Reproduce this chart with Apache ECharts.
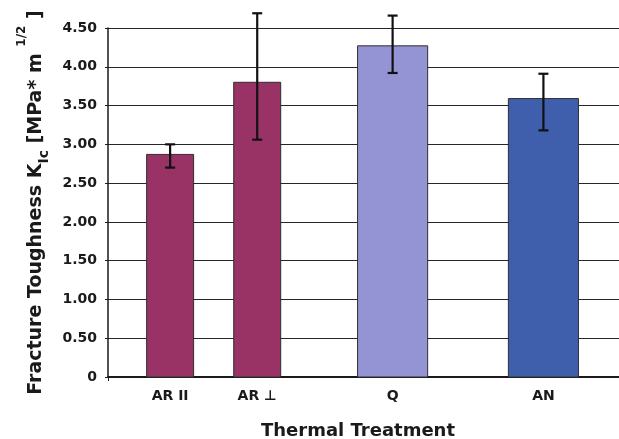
<!DOCTYPE html>
<html>
<head>
<meta charset="utf-8">
<script src="https://cdn.jsdelivr.net/npm/echarts@6/dist/echarts.min.js"></script>
<style>
  html, body { margin: 0; padding: 0; background: #fff; }
  #chart { width: 619px; height: 439px; }
</style>
</head>
<body>
<div id="chart"></div>
<script>
// Fracture toughness by thermal treatment, with scatter bars
const categories = ['AR II', 'AR \u22A5', 'Q', 'AN'];
const toughness = [2.87, 3.80, 4.27, 3.59];
const errorLow = [2.70, 3.06, 3.92, 3.18];
const errorHigh = [3.00, 4.69, 4.66, 3.91];
const yTicks = [0, 0.5, 1, 1.5, 2, 2.5, 3, 3.5, 4, 4.5];

// layout of the bars along the (hidden) horizontal scale
const slotCenter = [1.17, 2.81, 5.36, 8.2];
const slotWidth = [0.885, 0.885, 1.32, 1.32];
const barColors = ['#993366', '#993366', '#9494d4', '#3f5fad'];

const FONT = 'DejaVu Sans';
const INK = '#1a1a1a';

const chart = echarts.init(document.getElementById('chart'), null, { renderer: 'canvas' });

const seriesData = toughness.map((v, i) => [slotCenter[i], v, errorLow[i], errorHigh[i]]);

chart.setOption({
  animation: false,
  backgroundColor: '#ffffff',
  grid: { left: 108, top: 28, bottom: 62, right: -20, outerBoundsMode: 'none' },
  xAxis: {
    type: 'value',
    min: 0,
    max: 10,
    interval: 10,
    name: 'Thermal Treatment',
    nameLocation: 'middle',
    nameGap: 45,
    nameTextStyle: {
      fontFamily: FONT, fontWeight: 'bold', fontSize: 18, color: INK,
      padding: [0, 31, 0, 0]
    },
    axisLine: { show: true, lineStyle: { color: INK, width: 2 } },
    axisTick: { show: true, customValues: [0], length: 4, lineStyle: { color: INK, width: 1 } },
    axisLabel: {
      show: true,
      customValues: slotCenter,
      margin: 12,
      fontFamily: FONT, fontWeight: 'bold', fontSize: 14, color: INK,
      formatter: function (v) {
        const i = slotCenter.indexOf(v);
        if (i < 0) return '';
        return i === 1 ? '{up|' + categories[i] + '}' : categories[i];
      },
      rich: {
        up: { fontFamily: FONT, fontWeight: 'bold', fontSize: 14, color: INK, padding: [0, 0, 7, 0] }
      }
    },
    splitLine: { show: false }
  },
  yAxis: {
    type: 'value',
    min: 0,
    max: 4.5,
    interval: 0.5,
    name: '{m|Fracture Toughness K}{sub|Ic}{m| [MPa* m }{sup|1/2}{m| ]}',
    nameLocation: 'middle',
    nameGap: 42,
    nameRotate: 90,
    nameTextStyle: {
      fontFamily: FONT, fontWeight: 'bold', fontSize: 19, color: INK,
      rich: {
        m: { fontFamily: FONT, fontWeight: 'bold', fontSize: 19, color: INK, lineHeight: 46 },
        sub: { fontFamily: FONT, fontWeight: 'bold', fontSize: 14, color: INK, verticalAlign: 'bottom', padding: [0, 0, 8, 0] },
        sup: { fontFamily: FONT, fontWeight: 'bold', fontSize: 12, color: INK, verticalAlign: 'top', padding: [2, 0, 0, 0] }
      }
    },
    axisLine: { show: true, lineStyle: { color: INK, width: 1.5 } },
    axisTick: { show: true, length: 3, lineStyle: { color: INK, width: 1 } },
    axisLabel: {
      margin: 11,
      fontFamily: FONT, fontWeight: 'bold', fontSize: 14, color: INK,
      customValues: yTicks,
      formatter: v => (v === 0 ? '0' : v.toFixed(2))
    },
    splitLine: { show: true, lineStyle: { color: '#262626', width: 1 } }
  },
  series: [{
    type: 'custom',
    clip: false,
    data: seriesData,
    encode: { x: 0, y: [1, 2, 3] },
    renderItem: function (params, api) {
      const i = params.dataIndex;
      const cx = api.value(0);
      const base = api.coord([cx, 0]);
      const top = api.coord([cx, api.value(1)]);
      const lo = api.coord([cx, api.value(2)]);
      const hi = api.coord([cx, api.value(3)]);
      const w = api.size([slotWidth[i], 0])[0];
      const capHalf = 5;
      const errStyle = { stroke: '#111', lineWidth: 2.2 };
      return {
        type: 'group',
        children: [
          {
            type: 'rect',
            shape: { x: base[0] - w / 2, y: top[1], width: w, height: base[1] - top[1] },
            style: { fill: barColors[i], stroke: '#2e2e2e', lineWidth: 1 }
          },
          {
            type: 'line',
            shape: { x1: lo[0], y1: lo[1], x2: hi[0], y2: hi[1] },
            style: errStyle, z2: 5
          },
          {
            type: 'line',
            shape: { x1: hi[0] - capHalf, y1: hi[1], x2: hi[0] + capHalf, y2: hi[1] },
            style: errStyle, z2: 5
          },
          {
            type: 'line',
            shape: { x1: lo[0] - capHalf, y1: lo[1], x2: lo[0] + capHalf, y2: lo[1] },
            style: errStyle, z2: 5
          }
        ]
      };
    }
  }]
});
</script>
</body>
</html>
